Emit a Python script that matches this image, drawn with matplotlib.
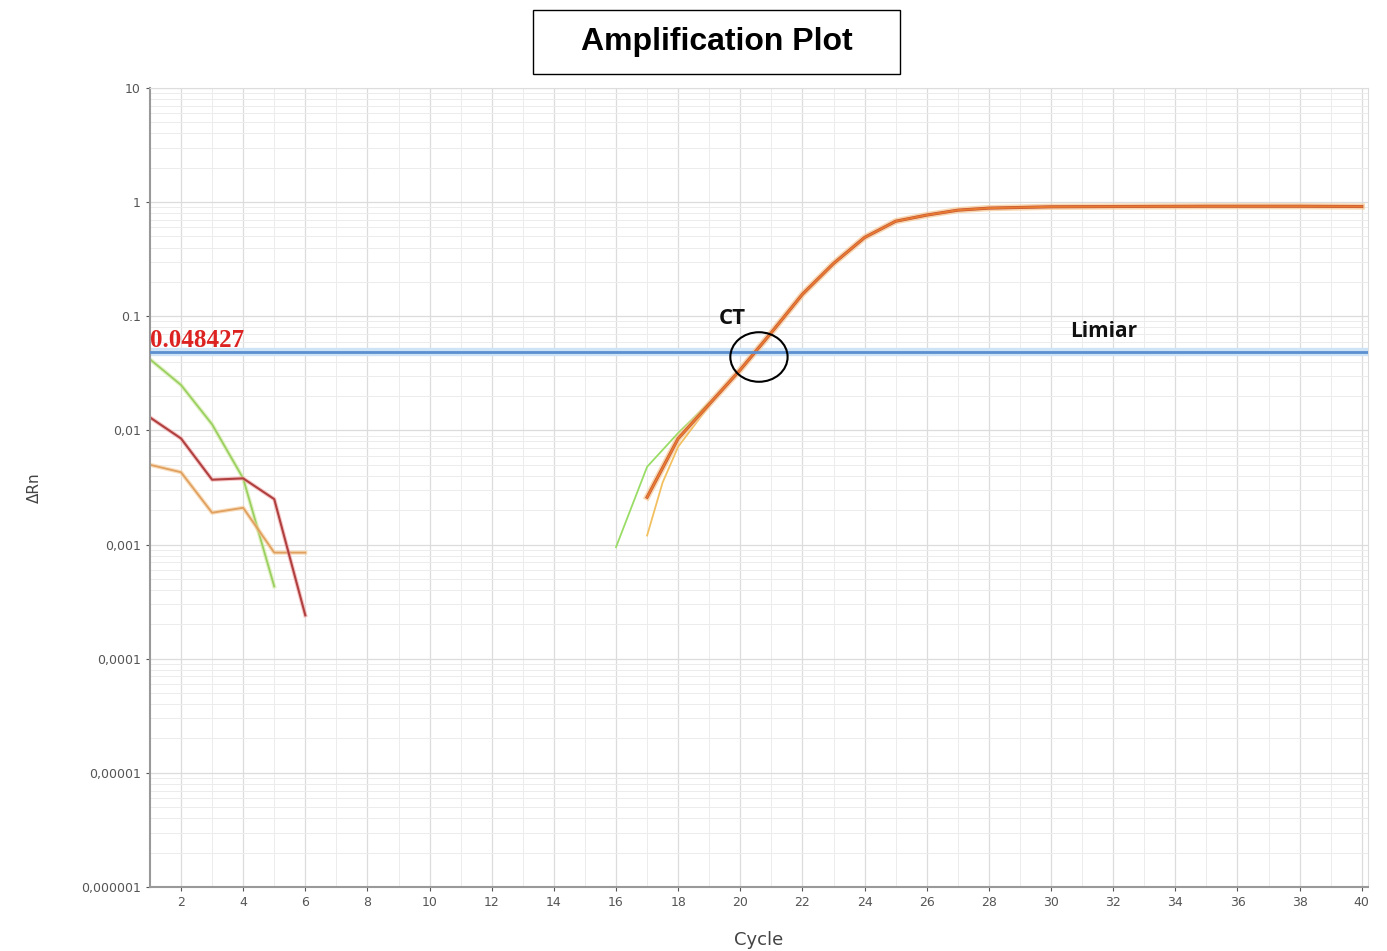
import numpy as np
import matplotlib.pyplot as plt
from matplotlib.patches import Ellipse, Rectangle
from matplotlib.ticker import FixedLocator, LogLocator, NullFormatter

# early (noise) curves, cycles 1..6
early_cycles_g = [1, 2, 3, 4, 5]
early_green = [0.042, 0.025, 0.0113, 0.0038, 0.00043]
early_cycles = [1, 2, 3, 4, 5, 6]
early_red = [0.013, 0.0085, 0.0037, 0.0038, 0.0025, 0.00024]
early_orange = [0.005, 0.0043, 0.0019, 0.0021, 0.00085, 0.00085]

# amplification curves
amp_cycles = [17, 18, 19, 20, 21, 22, 23, 24, 25, 26, 27, 28, 30, 32, 35, 38, 40]
amp_common = [0.0026, 0.0085, 0.017, 0.034, 0.072, 0.156, 0.29, 0.49, 0.68,
              0.77, 0.85, 0.886, 0.91, 0.915, 0.92, 0.92, 0.915]
green_cycles = [16, 17, 18, 19]
green_start = [0.00095, 0.0048, 0.0095, 0.0175]
yellow_cycles = [17, 17.5, 18, 19]
yellow_start = [0.0012, 0.0035, 0.0072, 0.0165]

threshold = 0.048427
ct_cycle = 20.6

xticks = list(range(2, 41, 2))
yticks = [1e-6, 1e-5, 1e-4, 1e-3, 1e-2, 1e-1, 1, 10]
ylabels = ['0,000001', '0,00001', '0,0001', '0,001', '0,01', '0.1', '1', '10']

fig = plt.figure(figsize=(13.87, 9.51), dpi=100)
ax = fig.add_axes([0.1081, 0.0673, 0.8782, 0.8402])
ax.set_yscale('log')
ax.set_xlim(1, 40.2)
ax.set_ylim(1e-6, 10)

# grid
ax.xaxis.set_major_locator(FixedLocator(xticks))
ax.xaxis.set_minor_locator(FixedLocator(range(1, 41)))
ax.yaxis.set_major_locator(FixedLocator(yticks))
ax.yaxis.set_minor_locator(LogLocator(base=10, subs=np.arange(2, 10)))
ax.yaxis.set_minor_formatter(NullFormatter())
ax.grid(which='major', color='#dcdcdc', lw=0.9)
ax.grid(which='minor', color='#ececec', lw=0.7)
ax.set_axisbelow(True)

ax.set_xticklabels([str(v) for v in xticks])
ax.set_yticklabels(ylabels)
ax.tick_params(which='major', labelsize=9, colors='#555555', length=3)
ax.tick_params(which='minor', length=0)
for s in ['top', 'right']:
    ax.spines[s].set_color('#dddddd')
for s in ['left', 'bottom']:
    ax.spines[s].set_color('#999999')
    ax.spines[s].set_linewidth(1.5)

# threshold
ax.axhline(threshold, color='#cfe3f7', lw=6, zorder=2)
ax.axhline(threshold, color='#5b8fd0', lw=2, zorder=3)

# early curves
ax.plot(early_cycles_g, early_green, color='#cfe9a0', lw=3, alpha=0.6)
ax.plot(early_cycles_g, early_green, color='#9ad060', lw=1.3)
ax.plot(early_cycles, early_orange, color='#f6c890', lw=3, alpha=0.6)
ax.plot(early_cycles, early_orange, color='#e0a060', lw=1.3)
ax.plot(early_cycles, early_red, color='#f0a0a0', lw=3, alpha=0.6)
ax.plot(early_cycles, early_red, color='#b04040', lw=1.5)

# amplification curves
ax.plot(green_cycles, green_start, color='#99dd66', lw=1.3)
ax.plot(yellow_cycles, yellow_start, color='#f2c060', lw=1.3)
ax.plot(amp_cycles, amp_common, color='#f6c890', lw=4.5, alpha=0.7)
ax.plot(amp_cycles, amp_common, color='#c05038', lw=2.2)
ax.plot(amp_cycles, amp_common, color='#e87a30', lw=1.4)

# annotations
ax.text(1.0, threshold * 1.01, '0.048427', color='#dd2222', fontsize=18,
        fontweight='bold', family='Liberation Serif', ha='left', va='bottom')
ax.text(19.75, 0.078, 'CT', fontsize=16, fontweight='bold', family='Open Sans',
        ha='center', va='bottom', color='#111111')
ax.text(31.7, 0.06, 'Limiar', fontsize=15, fontweight='bold', family='Open Sans',
        ha='center', va='bottom', color='#111111')

cx, cy = ax.transAxes.inverted().transform(ax.transData.transform((ct_cycle, threshold)))
ax.add_patch(Ellipse((cx, cy - 0.006), 0.047, 0.062, transform=ax.transAxes,
                     fill=False, ec='black', lw=1.5, zorder=5))

ax.set_xlabel('Cycle', fontsize=13, color='#444444', labelpad=16)
ax.set_ylabel('ΔRn', fontsize=11, color='#444444', labelpad=28)

# title box
fig.patches.append(Rectangle((0.3843, 0.9222), 0.2646, 0.0673, transform=fig.transFigure,
                             fill=False, ec='black', lw=1))
fig.text(0.5166, 0.956, 'Amplification Plot', fontsize=23, fontweight='bold',
         family='Liberation Sans', ha='center', va='center')

fig.savefig('out.png', dpi=100)
